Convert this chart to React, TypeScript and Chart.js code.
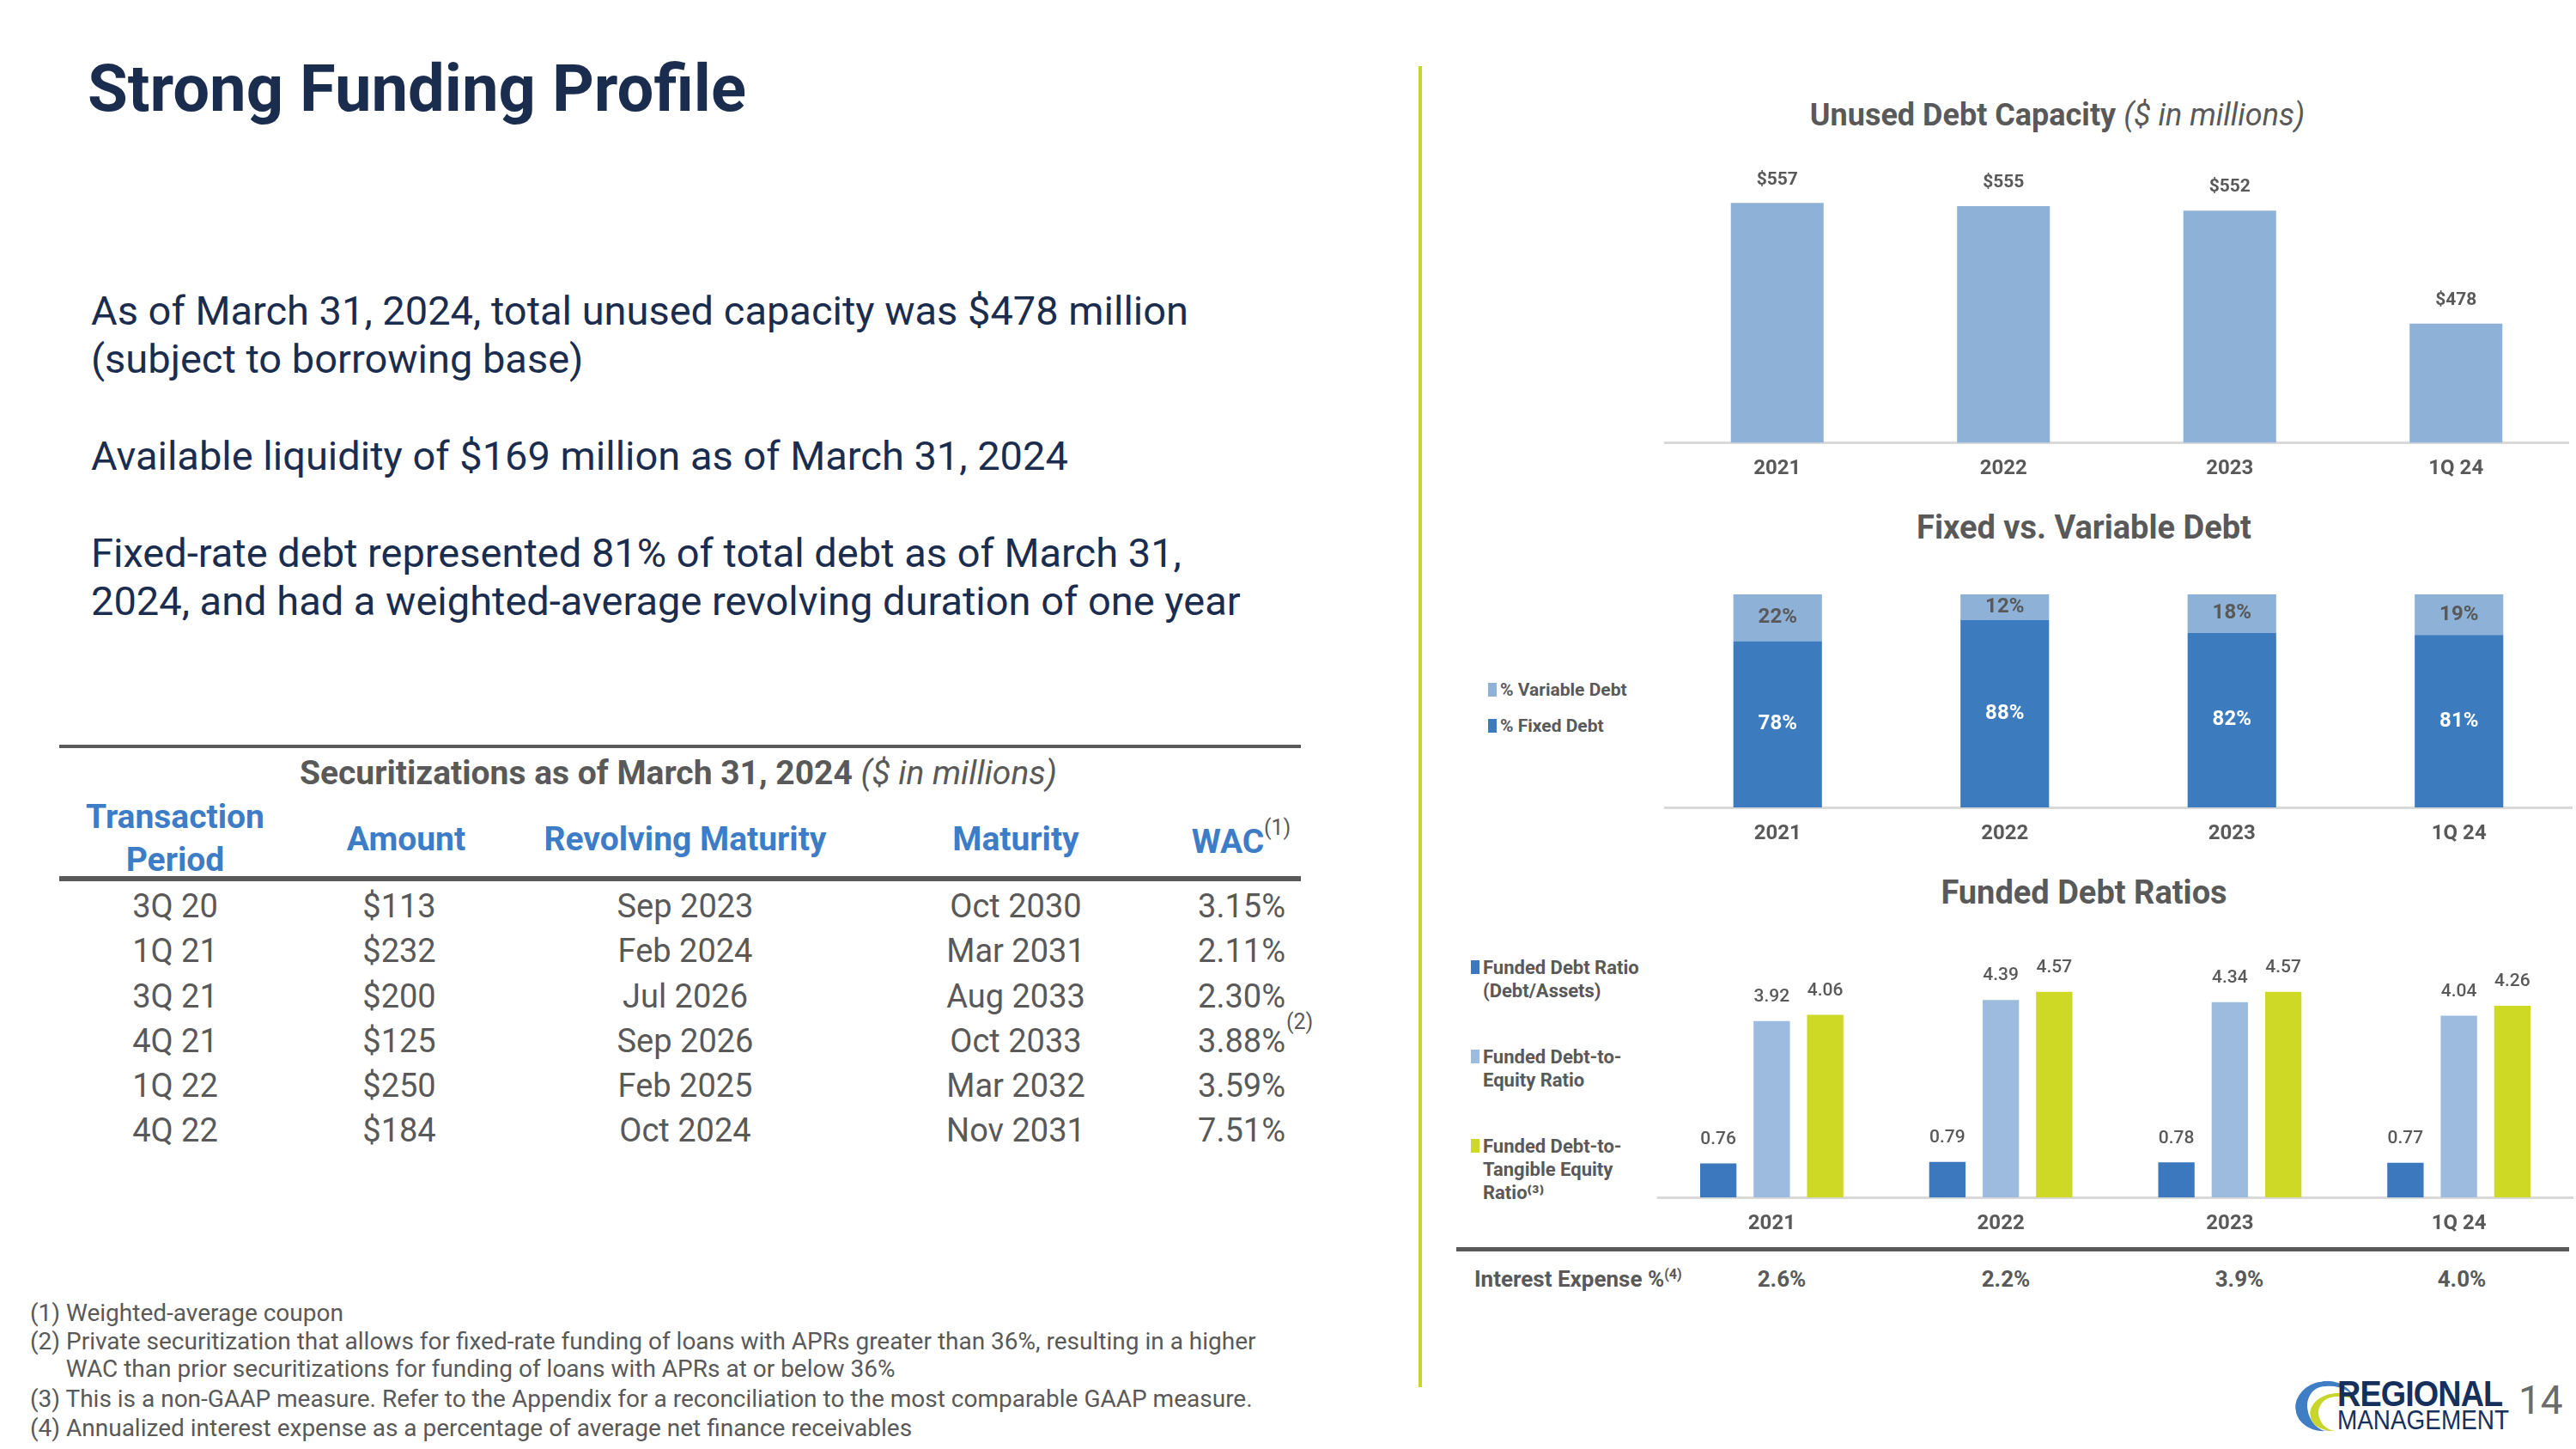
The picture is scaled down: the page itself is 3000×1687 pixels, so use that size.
import React, { useEffect, useRef } from "react";
import { Chart, registerables } from "chart.js";

Chart.register(...registerables);

// ---------- DATA ----------
const years = ["2021", "2022", "2023", "1Q 24"];
const unusedCapacity = [557, 555, 552, 478];
const fixedDebtPct = [78, 88, 82, 81];
const variableDebtPct = [22, 12, 18, 19];
const fundedDebtRatio = [0.76, 0.79, 0.78, 0.77];
const debtToEquity = [3.92, 4.39, 4.34, 4.04];
const debtToTangibleEquity = [4.06, 4.57, 4.57, 4.26];
const interestExpense = ["2.6%", "2.2%", "3.9%", "4.0%"];

const txPeriods = ["3Q 20", "1Q 21", "3Q 21", "4Q 21", "1Q 22", "4Q 22"];
const txAmounts = ["$113", "$232", "$200", "$125", "$250", "$184"];
const txRevolving = ["Sep 2023", "Feb 2024", "Jul 2026", "Sep 2026", "Feb 2025", "Oct 2024"];
const txMaturity = ["Oct 2030", "Mar 2031", "Aug 2033", "Oct 2033", "Mar 2032", "Nov 2031"];
const txWac = ["3.15%", "2.11%", "2.30%", "3.88%", "3.59%", "7.51%"];

const bullets = [
  ["As of March 31, 2024, total unused capacity was $478 million", "(subject to borrowing base)"],
  ["Available liquidity of $169 million as of March 31, 2024"],
  ["Fixed-rate debt represented 81% of total debt as of March 31,", "2024, and had a weighted-average revolving duration of one year"],
];

const footnotes = [
  "(1) Weighted-average coupon",
  "(2) Private securitization that allows for fixed-rate funding of loans with APRs greater than 36%, resulting in a higher",
  "      WAC than prior securitizations for funding of loans with APRs at or below 36%",
  "(3) This is a non-GAAP measure. Refer to the Appendix for a reconciliation to the most comparable GAAP measure.",
  "(4) Annualized interest expense as a percentage of average net finance receivables",
];

// ---------- STYLE ----------
const FONT = "Roboto, 'Noto Sans', Arial, sans-serif";
const GRAY = "#595959";
const NAVY = "#1b2d4f";
const BLUE_HDR = "#3d7cc6";
const C_LIGHT = "#8eb1d7";
const C_FIXED = "#3d7bbf";
const C_DARK = "#3c78be";
const C_MID = "#9dbbdf";
const C_GREEN = "#cdd925";

const valueLabelPlugin = {
  id: "valueLabels",
  afterDatasetsDraw(chart: any) {
    const ctx = chart.ctx;
    chart.data.datasets.forEach((ds: any, i: number) => {
      const meta = chart.getDatasetMeta(i);
      ctx.save();
      ctx.font = `${ds.labelWeight || "bold"} ${ds.labelSize || 22}px ${FONT}`;
      ctx.fillStyle = ds.labelColor || GRAY;
      ctx.textAlign = "center";
      ctx.textBaseline = "middle";
      meta.data.forEach((bar: any, j: number) => {
        const v = ds.data[j];
        const txt = (ds.labelPrefix || "") + (ds.labelDecimals != null ? v.toFixed(ds.labelDecimals) : String(v)) + (ds.labelSuffix || "");
        const y = ds.labelPos === "center" ? (bar.y + bar.base) / 2 : bar.y - (ds.labelOffset || 27);
        ctx.fillText(txt, bar.x, y);
      });
      ctx.restore();
    });
  },
};

function xScale(stacked = false) {
  return {
    stacked,
    grid: { display: false, drawTicks: false },
    border: { display: true, color: "#d9d9d9", width: 3 },
    ticks: { color: GRAY, padding: 16, font: { family: FONT, size: 24, weight: "bold" } },
  };
}

function ChartBox({ left, top, width, height, config }: any) {
  const ref = useRef<HTMLCanvasElement | null>(null);
  useEffect(() => {
    const chart = new Chart(ref.current as HTMLCanvasElement, config);
    return () => chart.destroy();
  }, []);
  return (
    <div style={{ position: "absolute", left, top, width, height }}>
      <canvas ref={ref} />
    </div>
  );
}

function T({ x, y, size, color = GRAY, weight = 400, align = "left", italic = false, children, style = {} }: any) {
  const tx = align === "center" ? "translateX(-50%)" : align === "right" ? "translateX(-100%)" : "none";
  return (
    <div
      style={{
        position: "absolute",
        left: x,
        top: y - size * 0.6,
        fontSize: size,
        lineHeight: `${size * 1.2}px`,
        fontWeight: weight,
        fontStyle: italic ? "italic" : "normal",
        color,
        whiteSpace: "pre",
        transform: tx,
        fontFamily: FONT,
        ...style,
      }}
    >
      {children}
    </div>
  );
}

const baseOpts = {
  responsive: true,
  maintainAspectRatio: false,
  animation: false,
  plugins: { legend: { display: false }, tooltip: { enabled: false } },
};

const chart1Config: any = {
  type: "bar",
  data: {
    labels: years,
    datasets: [
      {
        data: unusedCapacity,
        backgroundColor: C_LIGHT,
        barPercentage: 0.41,
        categoryPercentage: 1,
        labelPrefix: "$",
        labelSize: 21,
        labelOffset: 27,
      },
    ],
  },
  options: {
    ...baseOpts,
    layout: { padding: { top: 10, left: 0, right: 0, bottom: 0 } },
    scales: { x: xScale(), y: { display: false, min: 400, max: 600 } },
  },
  plugins: [valueLabelPlugin],
};

const chart2Config: any = {
  type: "bar",
  data: {
    labels: years,
    datasets: [
      {
        label: "% Fixed Debt",
        data: fixedDebtPct,
        backgroundColor: C_FIXED,
        barPercentage: 0.39,
        categoryPercentage: 1,
        labelSuffix: "%",
        labelPos: "center",
        labelColor: "#ffffff",
        labelSize: 24,
      },
      {
        label: "% Variable Debt",
        data: variableDebtPct,
        backgroundColor: C_LIGHT,
        barPercentage: 0.39,
        categoryPercentage: 1,
        labelSuffix: "%",
        labelPos: "center",
        labelColor: GRAY,
        labelSize: 24,
      },
    ],
  },
  options: {
    ...baseOpts,
    layout: { padding: { top: 12, left: 0, right: 0, bottom: 0 } },
    scales: { x: xScale(true), y: { display: false, stacked: true, min: 0, max: 100 } },
  },
  plugins: [valueLabelPlugin],
};

const grp = { barPercentage: 0.68, categoryPercentage: 0.7, labelDecimals: 2, labelSize: 21, labelWeight: "500", labelOffset: 28 };
const chart3Config: any = {
  type: "bar",
  data: {
    labels: years,
    datasets: [
      { label: "Funded Debt Ratio (Debt/Assets)", data: fundedDebtRatio, backgroundColor: C_DARK, ...grp },
      { label: "Funded Debt-to-Equity Ratio", data: debtToEquity, backgroundColor: C_MID, ...grp },
      { label: "Funded Debt-to-Tangible Equity Ratio", data: debtToTangibleEquity, backgroundColor: C_GREEN, ...grp },
    ],
  },
  options: {
    ...baseOpts,
    layout: { padding: { top: 16, left: 0, right: 0, bottom: 0 } },
    scales: { x: xScale(), y: { display: false, min: 0, max: 5.5 } },
  },
  plugins: [valueLabelPlugin],
};

function LegendItem({ x, y, color, lines, size = 21, lh = 27 }: any) {
  return (
    <>
      <div style={{ position: "absolute", left: x, top: y - 9, width: 10, height: 16, background: color }} />
      {lines.map((l: string, i: number) => (
        <T key={i} x={x + 14} y={y + i * lh} size={size} weight={700}>
          {l}
        </T>
      ))}
    </>
  );
}

const colX = [204, 465, 798, 1183, 1446];
const rowY = [1056, 1108, 1161, 1213, 1265, 1317];
const ieX = [2075, 2336, 2608, 2867];
const HDR = 39;

export default function App() {
  return (
    <div style={{ position: "absolute", left: 0, top: 0, width: 3000, height: 1687, background: "#fff", overflow: "hidden", fontFamily: FONT }}>
      {/* Title */}
      <T x={102} y={104} size={76} weight={700} color={NAVY}>
        Strong Funding Profile
      </T>

      {/* Bullets */}
      <T x={106} y={362} size={47} color={NAVY}>{bullets[0][0]}</T>
      <T x={106} y={418} size={47} color={NAVY}>{bullets[0][1]}</T>
      <T x={106} y={531} size={47} color={NAVY}>{bullets[1][0]}</T>
      <T x={106} y={644} size={47} color={NAVY}>{bullets[2][0]}</T>
      <T x={106} y={700} size={47} color={NAVY}>{bullets[2][1]}</T>

      {/* Table */}
      <div style={{ position: "absolute", left: 69, top: 867, width: 1446, height: 4, background: GRAY }} />
      <T x={790} y={900} size={HDR} weight={700} align="center">
        Securitizations as of March 31, 2024 <span style={{ fontWeight: 400, fontStyle: "italic" }}>($ in millions)</span>
      </T>
      <T x={colX[0]} y={951} size={HDR} weight={700} color={BLUE_HDR} align="center">Transaction</T>
      <T x={colX[0]} y={1001} size={HDR} weight={700} color={BLUE_HDR} align="center">Period</T>
      <T x={473} y={977} size={HDR} weight={700} color={BLUE_HDR} align="center">Amount</T>
      <T x={798} y={977} size={HDR} weight={700} color={BLUE_HDR} align="center">Revolving Maturity</T>
      <T x={1183} y={977} size={HDR} weight={700} color={BLUE_HDR} align="center">Maturity</T>
      <T x={1430} y={980} size={HDR} weight={700} color={BLUE_HDR} align="center">WAC</T>
      <T x={1472} y={964} size={25} color={GRAY}>(1)</T>
      <div style={{ position: "absolute", left: 69, top: 1020, width: 1446, height: 6, background: GRAY }} />
      {txPeriods.map((p, i) => (
        <React.Fragment key={i}>
          <T x={colX[0]} y={rowY[i]} size={38} align="center">{p}</T>
          <T x={colX[1]} y={rowY[i]} size={38} align="center">{txAmounts[i]}</T>
          <T x={colX[2]} y={rowY[i]} size={38} align="center">{txRevolving[i]}</T>
          <T x={colX[3]} y={rowY[i]} size={38} align="center">{txMaturity[i]}</T>
          <T x={colX[4]} y={rowY[i]} size={38} align="center">{txWac[i]}</T>
        </React.Fragment>
      ))}
      <T x={1498} y={1190} size={25}>(2)</T>

      {/* Footnotes */}
      {footnotes.map((f, i) => (
        <T key={i} x={35} y={[1529, 1562, 1594, 1629, 1663][i]} size={28}>{f}</T>
      ))}

      {/* Separator */}
      <div style={{ position: "absolute", left: 1652, top: 77, width: 4, height: 1538, background: "#c8d62b" }} />

      {/* Chart 1 */}
      <T x={2396} y={135} size={36} weight={700} align="center">
        Unused Debt Capacity <span style={{ fontWeight: 400, fontStyle: "italic" }}>($ in millions)</span>
      </T>
      <ChartBox left={1938} top={150} width={1054} height={426} config={chart1Config} />

      {/* Chart 2 */}
      <T x={2427} y={615} size={38} weight={700} align="center">Fixed vs. Variable Debt</T>
      <LegendItem x={1733} y={804} color={C_LIGHT} lines={["% Variable Debt"]} />
      <LegendItem x={1733} y={846} color={C_FIXED} lines={["% Fixed Debt"]} />
      <ChartBox left={1938} top={680} width={1058} height={321} config={chart2Config} />

      {/* Chart 3 */}
      <T x={2427} y={1040} size={38} weight={700} align="center">Funded Debt Ratios</T>
      <LegendItem x={1713} y={1127} size={22} color={C_DARK} lines={["Funded Debt Ratio", "(Debt/Assets)"]} />
      <LegendItem x={1713} y={1231} size={22} color={C_MID} lines={["Funded Debt-to-", "Equity Ratio"]} />
      <LegendItem x={1713} y={1335} size={22} color={C_GREEN} lines={["Funded Debt-to-", "Tangible Equity", "Ratio⁽³⁾"]} />
      <ChartBox left={1930} top={1090} width={1067} height={365} config={chart3Config} />

      {/* Interest expense row */}
      <div style={{ position: "absolute", left: 1696, top: 1452, width: 1296, height: 5, background: GRAY }} />
      <T x={1717} y={1490} size={26} weight={700}>
        Interest Expense %<sup style={{ fontSize: 16, verticalAlign: "top", position: "relative", top: -6 }}>(4)</sup>
      </T>
      {interestExpense.map((v, i) => (
        <T key={i} x={ieX[i]} y={1490} size={26} weight={700} align="center">{v}</T>
      ))}

      {/* Logo */}
      <div style={{ position: "absolute", left: 2673, top: 1608, width: 70, height: 58, borderRadius: "50%", borderLeft: "14px solid #3f7ec4", borderTop: "6px solid #3f7ec4", borderRight: "0", borderBottom: "0", boxSizing: "border-box", transform: "rotate(-8deg)" }} />
      <div style={{ position: "absolute", left: 2690, top: 1622, width: 60, height: 44, borderRadius: "50%", borderLeft: "10px solid #c8d62b", borderTop: "4px solid #c8d62b", boxSizing: "border-box", transform: "rotate(-8deg)" }} />
      <div style={{ position: "absolute", left: 2722, top: 1602, fontFamily: "'Liberation Sans', Arial, sans-serif", fontWeight: 900, fontSize: 42, lineHeight: "42px", color: "#16305e", transform: "scaleX(0.9)", transformOrigin: "left top", letterSpacing: -1 }}>
        REGIONAL
      </div>
      <div style={{ position: "absolute", left: 2722, top: 1638, fontFamily: "'Liberation Sans', Arial, sans-serif", fontSize: 31, lineHeight: "31px", color: "#16305e", transform: "scaleX(0.9)", transformOrigin: "left top" }}>
        MANAGEMENT
      </div>
      <T x={2933} y={1631} size={46} color="#6b6b6b">14</T>
    </div>
  );
}
